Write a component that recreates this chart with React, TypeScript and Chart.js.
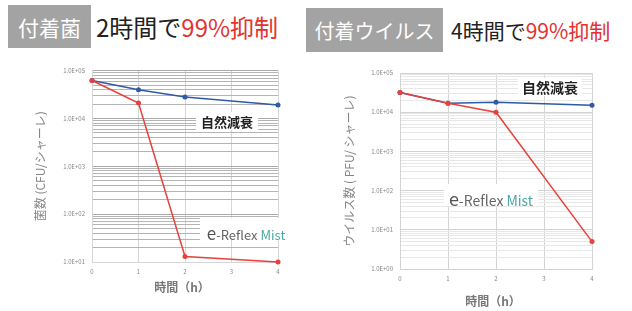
import React, { useEffect, useRef } from "react";
import { Chart, registerables } from "chart.js";
Chart.register(...registerables);

// ---- data ----
const hours = [0, 1, 2, 4];
const xTickValues = [0, 1, 2, 3, 4];
const bacteriaNatural = [6.2e4, 4.0e4, 2.8e4, 1.9e4];
const bacteriaReflex = [6.2e4, 2.1e4, 13, 10];
const virusNatural = [3.2e4, 1.7e4, 1.8e4, 1.5e4];
const virusReflex = [3.2e4, 1.7e4, 1.0e4, 5.0];
const bacteriaYRange = [1e1, 1e5];
const virusYRange = [1e0, 1e5];
const seriesNames = ["e-Reflex Mist", "自然減衰"];

const FONT = "'Noto Sans CJK JP', 'Noto Sans', sans-serif";
const BLUE = "#2f5aa6";
const RED = "#e8413c";

const isPow10 = (v: number) => Math.abs(Math.log10(v) - Math.round(Math.log10(v))) < 1e-9;
const fmtExp = (v: number) => {
  const e = Math.round(Math.log10(v));
  return "1.0E+" + String(e).padStart(2, "0");
};
const logTicks = (min: number, max: number) => {
  const out: { value: number; major: boolean }[] = [];
  for (let e = Math.round(Math.log10(min)); e <= Math.round(Math.log10(max)); e++) {
    for (let s = 1; s <= 9; s++) {
      const v = s * Math.pow(10, e);
      if (v >= min - 1e-9 && v <= max + 1e-9) out.push({ value: v, major: s === 1 });
    }
  }
  return out;
};

type Opts = {
  natural: number[];
  reflex: number[];
  yRange: number[];
  yTitle: string;
  xTitle: string;
  yAxisWidth: number;
  yTitlePad: number;
  xAxisHeight: number;
  xTitlePad: number;
  padding: { left: number; top: number; right: number; bottom: number };
  hMinor: string;
  hMajor: string;
  vGrid: string;
  titleWeight: string;
};

function makeConfig(o: Opts): any {
  const pts = (arr: number[]) => hours.map((h, i) => ({ x: h, y: arr[i] }));
  const ds = (label: string, data: number[], color: string) => ({
    label,
    data: pts(data),
    borderColor: color,
    backgroundColor: color,
    pointBackgroundColor: color,
    pointBorderColor: color,
    borderWidth: 1.5,
    pointRadius: 2.5,
    pointBorderWidth: 0,
    clip: 8,
    tension: 0,
  });
  return {
    type: "line",
    data: {
      datasets: [ds(seriesNames[0], o.reflex, RED), ds(seriesNames[1], o.natural, BLUE)],
    },
    options: {
      animation: false,
      responsive: false,
      layout: { padding: o.padding },
      plugins: { legend: { display: false }, tooltip: { enabled: false } },
      scales: {
        x: {
          type: "linear",
          min: xTickValues[0],
          max: xTickValues[xTickValues.length - 1],
          afterBuildTicks: (s: any) => {
            s.ticks = xTickValues.map((v) => ({ value: v }));
          },
          grid: { color: o.vGrid, drawTicks: false },
          border: { color: o.vGrid },
          ticks: { autoSkip: false, font: { size: 6, family: FONT }, color: "#888", padding: 6 },
          title: {
            display: true,
            text: o.xTitle,
            color: "#777",
            font: { size: 12, weight: o.titleWeight, family: FONT },
            padding: { top: 0, bottom: o.xTitlePad },
          },
          afterFit: (s: any) => {
            s.height = o.xAxisHeight;
          },
        },
        y: {
          type: "logarithmic",
          min: o.yRange[0],
          max: o.yRange[1],
          afterBuildTicks: (s: any) => {
            s.ticks = logTicks(o.yRange[0], o.yRange[1]);
          },
          grid: {
            drawTicks: false,
            color: (c: any) => (c.tick && isPow10(c.tick.value) ? o.hMajor : o.hMinor),
          },
          border: { color: o.vGrid },
          ticks: {
            autoSkip: false,
            font: { size: 6, family: FONT },
            color: "#888",
            padding: 7,
            callback: (v: any) => (isPow10(Number(v)) ? fmtExp(Number(v)) : ""),
          },
          title: {
            display: true,
            text: o.yTitle,
            color: "#858585",
            font: { size: 12, family: FONT },
            padding: { top: o.yTitlePad, bottom: 0 },
          },
          afterFit: (s: any) => {
            s.width = o.yAxisWidth;
          },
        },
      },
    },
  };
}

function ChartCanvas({ opts, style, w, h }: { opts: Opts; style: React.CSSProperties; w: number; h: number }) {
  const ref = useRef<HTMLCanvasElement | null>(null);
  useEffect(() => {
    if (!ref.current) return;
    const chart = new Chart(ref.current, makeConfig(opts));
    return () => chart.destroy();
  }, []);
  return <canvas ref={ref} width={w} height={h} style={{ position: "absolute", display: "block", width: w, height: h, ...style }} />;
}

const abs = (l: number, t: number, w: number, h: number): React.CSSProperties => ({
  position: "absolute",
  left: l,
  top: t,
  width: w,
  height: h,
  display: "flex",
  alignItems: "center",
  justifyContent: "center",
  whiteSpace: "nowrap",
});

export default function App() {
  const leftOpts: Opts = {
    natural: bacteriaNatural,
    reflex: bacteriaReflex,
    yRange: bacteriaYRange,
    yTitle: "菌数 (CFU/シャーレ)",
    xTitle: "時間（h）\u2002",
    yAxisWidth: 92,
    yTitlePad: 33,
    xAxisHeight: 40,
    xTitlePad: 7,
    padding: { left: 0, top: 10, right: 22, bottom: 0 },
    hMinor: "#b4b4b4",
    hMajor: "#a8a8a8",
    vGrid: "#d6d6d6",
    titleWeight: "bold",
  };
  const rightOpts: Opts = {
    natural: virusNatural,
    reflex: virusReflex,
    yRange: virusYRange,
    yTitle: "ウイルス数 ( PFU/ シャーレ)",
    xTitle: "時間（h）\u3000",
    yAxisWidth: 84,
    yTitlePad: 26,
    xAxisHeight: 42,
    xTitlePad: 2,
    padding: { left: 0, top: 13, right: 40, bottom: 0 },
    hMinor: "#e8e8e8",
    hMajor: "#d2d2d2",
    vGrid: "#d4d4d4",
    titleWeight: "bold",
  };
  return (
    <div style={{ position: "fixed", left: 0, top: 0, width: 632, height: 311, background: "#fff", overflow: "hidden", fontFamily: FONT }}>
      <div style={{ ...abs(8, 5, 83, 43), background: "#a3a3a3", color: "#fff", fontSize: 21 }}>付着菌</div>
      <div style={{ ...abs(96, 5, 190, 43), justifyContent: "flex-start", fontSize: 24, color: "#222" }}>
        2時間で<span style={{ color: "#e2332f" }}>99%抑制</span>
      </div>
      <div style={{ ...abs(306, 8, 137, 44), background: "#a3a3a3", color: "#fff", fontSize: 20 }}>付着ウイルス</div>
      <div style={{ ...abs(451, 8, 175, 44), justifyContent: "flex-start", fontSize: 21, color: "#222" }}>
        4時間で<span style={{ color: "#e2332f" }}>99%抑制</span>
      </div>

      <ChartCanvas opts={leftOpts} w={300} h={242} style={{ left: 0, top: 60 }} />
      <ChartCanvas opts={rightOpts} w={316} h={251} style={{ left: 316, top: 60 }} />

      <div style={{ ...abs(196, 112, 62, 18), background: "#fff", fontSize: 13, fontWeight: "bold", color: "#222" }}>自然減衰</div>
      <div style={{ ...abs(200, 218, 92, 22), background: "#fff", fontSize: 13, color: "#666", alignItems: "baseline", paddingTop: 2, boxSizing: "border-box" }}>
        <span style={{ fontSize: 17, color: "#555" }}>e</span>-Reflex<span style={{ color: "#4aa9a2", marginLeft: 3 }}>Mist</span>
      </div>
      <div style={{ ...abs(518, 78, 64, 18), background: "#fff", fontSize: 14, fontWeight: "bold", color: "#222" }}>自然減衰</div>
      <div style={{ ...abs(444, 184, 94, 22), background: "#fff", fontSize: 14, color: "#666", alignItems: "baseline", paddingTop: 1, boxSizing: "border-box" }}>
        <span style={{ fontSize: 18, color: "#555" }}>e</span>-Reflex<span style={{ color: "#4aa9a2", marginLeft: 3 }}>Mist</span>
      </div>
    </div>
  );
}
